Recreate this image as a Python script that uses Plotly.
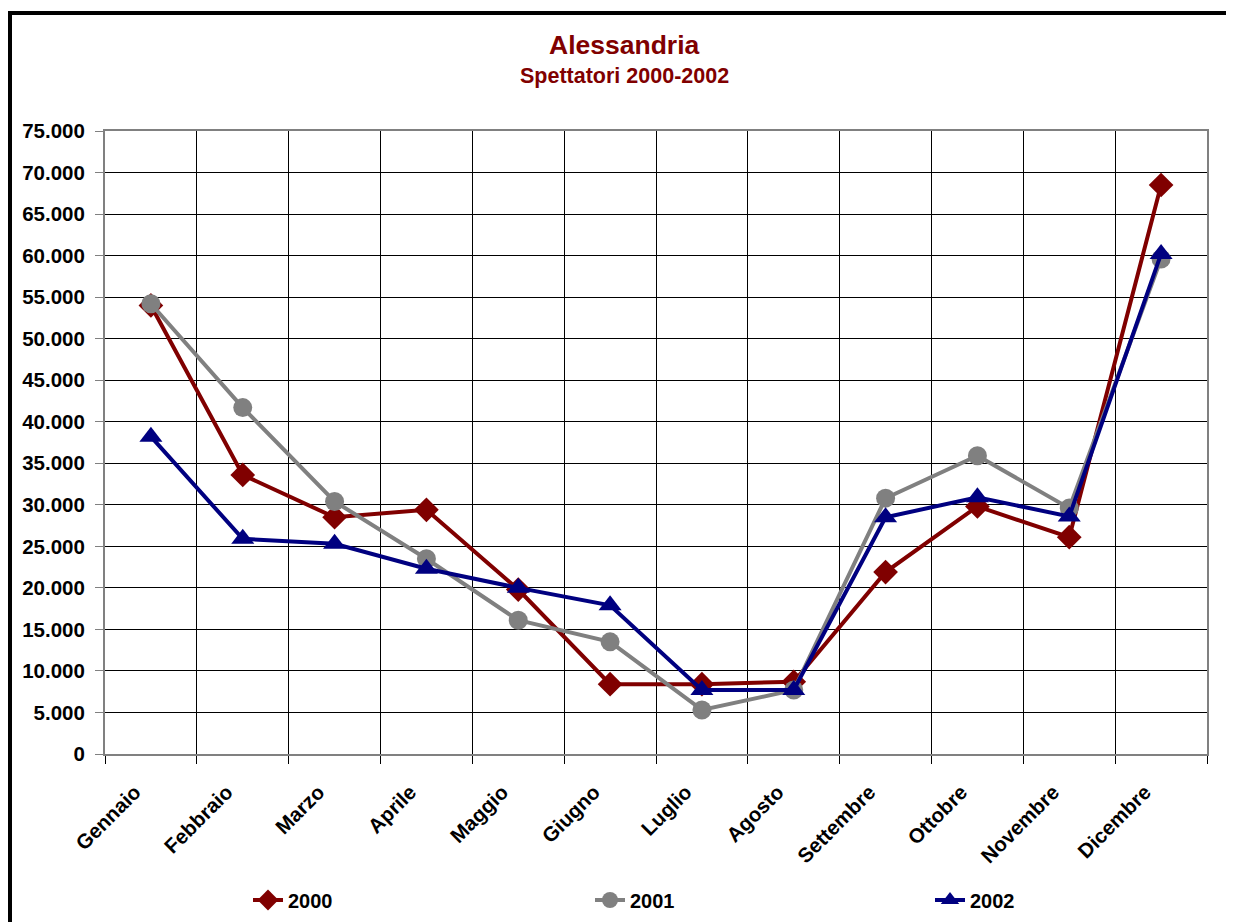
import plotly.graph_objects as go

mesi = ['Gennaio', 'Febbraio', 'Marzo', 'Aprile', 'Maggio', 'Giugno',
        'Luglio', 'Agosto', 'Settembre', 'Ottobre', 'Novembre', 'Dicembre']

spettatori_2000 = [54000, 33600, 28500, 29400, 19800, 8400,
                   8400, 8700, 21900, 29800, 26100, 68500]
spettatori_2001 = [54200, 41700, 30400, 23500, 16100, 13500,
                   5300, 7700, 30800, 35900, 29600, 59600]
spettatori_2002 = [38200, 25900, 25300, 22300, 20000, 17900,
                   7700, 7700, 28500, 30900, 28600, 60200]

FONT = 'Liberation Sans, Arial, sans-serif'
ROSSO = '#800000'
GRIGIO = '#808080'
BLU = '#000080'

# la pagina html ha un margine di 8px: si lavora in coordinate dello screenshot
OFF = 8
W, H = 1234 - OFF, 922 - OFF
L, R, T, B = 105 - OFF, 27, 131 - OFF, 168
pw, ph = W - L - R, H - T - B


def px_x(x):
    return (x - OFF - L) / pw


def px_y(y):
    return (H - B - (y - OFF)) / ph


fig = go.Figure()

series = [
    ('2000', spettatori_2000, ROSSO, 'diamond', 19, 'legend', 248),
    ('2001', spettatori_2001, GRIGIO, 'circle', 19, 'legend2', 590),
    ('2002', spettatori_2002, BLU, 'triangle-up', 20, 'legend3', 930),
]
legend_font = dict(family=FONT, size=20, color='black', weight='bold')
legends = {}
for nome, valori, colore, simbolo, dim, leg, lx in series:
    fig.add_trace(go.Scatter(
        x=mesi, y=valori, name=nome, mode='lines+markers',
        line=dict(color=colore, width=4),
        marker=dict(symbol=simbolo, size=dim, color=colore),
        legend=leg,
    ))
    legends[leg] = dict(xref='container', yref='container',
                        x=(lx - OFF) / W, y=1 - (900 - OFF) / H,
                        xanchor='left', yanchor='middle',
                        orientation='h', font=legend_font, bgcolor='rgba(0,0,0,0)')

# cornice esterna (solo lato sinistro e superiore visibili)
fig.add_shape(type='line', xref='paper', yref='paper',
              x0=px_x(10), x1=px_x(10), y0=px_y(13), y1=px_y(940),
              line=dict(color='black', width=4))
fig.add_shape(type='line', xref='paper', yref='paper',
              x0=px_x(8), x1=px_x(1250), y0=px_y(13), y1=px_y(13),
              line=dict(color='black', width=4))

fig.add_annotation(text='<b>Alessandria</b>', xref='paper', yref='paper',
                   x=px_x(624), y=px_y(45), showarrow=False,
                   xanchor='center', yanchor='middle',
                   font=dict(family=FONT, size=26.5, color=ROSSO))
fig.add_annotation(text='<b>Spettatori 2000-2002</b>', xref='paper', yref='paper',
                   x=px_x(624), y=px_y(76), showarrow=False,
                   xanchor='center', yanchor='middle',
                   font=dict(family=FONT, size=21.5, color=ROSSO))

fig.update_xaxes(
    type='category', range=[-0.5, 11.5], tickson='boundaries', ticks='outside', ticklen=8,
    tickcolor='black', showgrid=True, gridcolor='black', gridwidth=1,
    showline=True, linecolor=GRIGIO, linewidth=2, mirror=True, automargin=False,
    tickangle=-45, ticklabelshift=-16, ticklabelstandoff=16,
    tickfont=dict(family=FONT, size=20.5, color='black', weight='bold'),
)
fig.update_yaxes(
    range=[0, 75000], dtick=5000, tickformat=',d', ticks='outside', ticklen=8,
    tickcolor=GRIGIO, showgrid=True, gridcolor='black', gridwidth=1,
    showline=True, linecolor=GRIGIO, linewidth=2, mirror=True, zeroline=False,
    automargin=False, ticklabelstandoff=6,
    tickfont=dict(family=FONT, size=20.5, color='black', weight='bold'),
)

fig.update_layout(
    width=W, height=H,
    margin=dict(l=L, r=R, t=T, b=B),
    paper_bgcolor='white', plot_bgcolor='white',
    separators=',.',
    showlegend=True,
    font=dict(family=FONT),
    **legends,
)

fig.write_html('out.html')
